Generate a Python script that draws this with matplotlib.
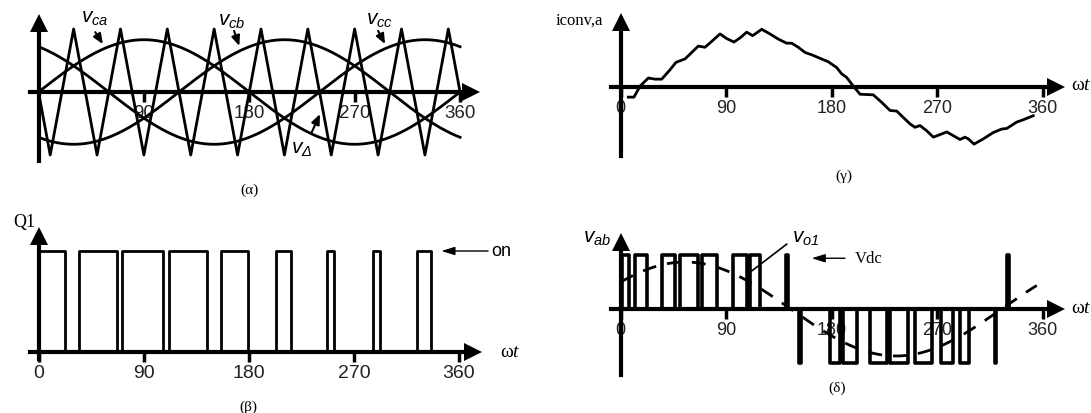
import matplotlib.pyplot as plt
import numpy as np

plt.rcParams['font.family'] = ['Liberation Sans', 'DejaVu Sans']
plt.rcParams['mathtext.fontset'] = 'custom'
plt.rcParams['mathtext.rm'] = 'Liberation Serif'
plt.rcParams['mathtext.it'] = 'Liberation Serif:italic'
plt.rcParams['mathtext.sf'] = 'Liberation Sans:italic'

W, H = 1091, 414

# (alpha) three modulating sines and the triangular carrier
mod_amp = 0.83
mod_peak_deg = [90, 210, 330]  # v_ca, v_cb, v_cc
carrier_deg = [0, 10, 30, 50, 70, 90, 110, 130, 150, 170, 190,
               210, 230, 250, 270, 290, 310, 330, 350, 360]
carrier_val = [0, -1, 1, -1, 1, -1, 1, -1, 1, -1, 1,
               -1, 1, -1, 1, -1, 1, -1, 1, 0]

# (beta) switching pulses of Q1 (on / off edges in degrees)
q1_on = [0, 34.3, 71, 111.6, 155.9, 203, 247, 286, 324]
q1_off = [22.3, 67.2, 106.6, 144.5, 179.4, 216, 253, 292, 336]

# (gamma) converter current
i_deg = [6.5, 11.3, 16.5, 23.6, 29.3, 35, 42, 47.2, 54.9, 59.1, 66.2, 71.9,
         77.6, 84.7, 90.4, 96.7, 102.4, 107.5, 112.6, 120.3, 127.4, 134.5,
         141.6, 145.9, 151.5, 157.3, 163, 170, 177.1, 184.3, 188.6, 192.8,
         198.5, 204.2, 215.5, 222.7, 229.8, 235.5, 241.1, 246.8, 251.1,
         255.4, 261.1, 266.8, 278.2, 289.5, 293.8, 296.6, 301.5, 309.4,
         317.9, 325.1, 329.4, 337.9, 343.5, 352]
i_val = [-0.18, -0.18, 0.01, 0.15, 0.13, 0.13, 0.29, 0.42, 0.48, 0.56, 0.70,
         0.68, 0.78, 0.91, 0.83, 0.77, 0.85, 0.94, 0.88, 0.99, 0.91, 0.82,
         0.75, 0.75, 0.68, 0.59, 0.55, 0.49, 0.43, 0.33, 0.22, 0.16, 0.01,
         -0.13, -0.14, -0.27, -0.41, -0.42, -0.53, -0.64, -0.70, -0.67,
         -0.76, -0.87, -0.78, -0.91, -0.87, -0.90, -0.99, -0.90, -0.79,
         -0.73, -0.72, -0.61, -0.57, -0.50]

# (delta) line-to-line voltage pulses (start, end, level)
vab_pulses = [(1.5, 7.5, 1), (12.5, 22.2, 1), (35, 46.3, 1), (50.6, 66.2, 1),
              (69.5, 82.5, 1), (95.6, 107.5, 1), (110.5, 118.5, 1),
              (141, 142.5, 1), (152.5, 154, -1), (178.6, 187.1, -1),
              (190, 201.4, -1), (213, 227, -1), (229.8, 245.4, -1),
              (251.1, 265.5, -1), (273.5, 283.5, -1), (289.5, 297.5, -1),
              (319, 320.5, -1), (330, 331.5, 1)]
vo1_amp = 0.87
vo1_shift_deg = 35

ticks = [0, 90, 180, 270, 360]

fig = plt.figure(figsize=(W / 100, H / 100), dpi=100)


def panel(x0, kx, xlim, y0, ky, ylim):
    # x0, y0: pixel position of the origin; kx, ky: pixels per data unit
    left = x0 + xlim[0] * kx
    right = x0 + xlim[1] * kx
    top = y0 - ylim[1] * ky
    bottom = y0 - ylim[0] * ky
    ax = fig.add_axes([left / W, 1 - bottom / H, (right - left) / W, (bottom - top) / H])
    ax.set_xlim(xlim)
    ax.set_ylim(ylim)
    ax.patch.set_visible(False)
    return ax


def axis_lines(ax, xspan, yspan, tick_pos, fs):
    ax.spines['top'].set_visible(False)
    ax.spines['right'].set_visible(False)
    for s in ['bottom', 'left']:
        ax.spines[s].set_position(('data', 0))
        ax.spines[s].set_linewidth(3)
    ax.spines['bottom'].set_bounds(*xspan)
    ax.spines['left'].set_bounds(*yspan)
    ax.set_xticks(tick_pos, [str(t) for t in tick_pos])
    ax.set_yticks([])
    ax.tick_params(axis='x', direction='out', length=7, width=2.5,
                   labelsize=fs, pad=2, labelcolor='#222')
    ax.plot(xspan[1], 0, marker='>', ms=13, mew=0, color='k', clip_on=False)
    ax.plot(0, yspan[1], marker='^', ms=13, mew=0, color='k', clip_on=False)


arrow = dict(arrowstyle='-|>,head_length=0.6,head_width=0.25', color='k',
             lw=1.5, shrinkA=0, shrinkB=0)

# ---- (alpha)
ax1 = panel(38.5, 1.171, (-25, 395), 93, 63, (-1.45, 1.45))
axis_lines(ax1, (-7, 369), (-1.1, 1.1), ticks[1:], 13.5)
th = np.linspace(0, 360, 361)
for p in mod_peak_deg:
    ax1.plot(th, mod_amp * np.sin(np.radians(th - p + 90)), color='k', lw=2)
ax1.plot(carrier_deg, carrier_val, color='k', lw=2)
ax1.text(48, 1.2, r'$\mathsf{v}_{\mathsf{ca}}$', fontsize=15, ha='center', va='center')
ax1.annotate('', xy=(55, 0.76), xytext=(48.5, 0.95), arrowprops=arrow)
ax1.text(165, 1.15, r'$\mathsf{v}_{\mathsf{cb}}$', fontsize=15, ha='center', va='center')
ax1.annotate('', xy=(171.5, 0.73), xytext=(167, 0.97), arrowprops=arrow)
ax1.text(291.6, 1.17, r'$\mathsf{v}_{\mathsf{cc}}$', fontsize=15, ha='center', va='center')
ax1.annotate('', xy=(296, 0.76), xytext=(290, 0.97), arrowprops=arrow)
ax1.text(224.8, -0.88, r'$\mathsf{v}_{\mathsf{\Delta}}$', fontsize=15, ha='center', va='center')
ax1.annotate('', xy=(240.4, -0.35), xytext=(233.3, -0.64), arrowprops=arrow)
ax1.text(180, -1.54, '(α)', family='Liberation Serif', fontsize=11, ha='center', va='center')

# ---- (beta)
ax2 = panel(38.8, 1.167, (-25, 400), 353, 101, (-0.45, 1.4))
axis_lines(ax2, (-7.5, 372), (-0.07, 1.15), ticks, 14)
qx, qy = [], []
for a, b in zip(q1_on, q1_off):
    qx += [a, a, b, b]
    qy += [0, 1, 1, 0]
ax2.plot(qx, qy, color='k', lw=2)
ax2.text(-12.7, 1.29, 'Q1', family='Liberation Serif', fontsize=13, ha='center', va='center')
ax2.annotate('', xy=(345, 1), xytext=(385, 1),
             arrowprops=dict(arrowstyle='-|>,head_length=0.8,head_width=0.25',
                             color='k', lw=1, shrinkA=0, shrinkB=0))
ax2.text(388, 1, 'on', fontsize=13, ha='left', va='center')
ax2.text(395, 0, r'$\mathrm{\omega}t$', fontsize=14, ha='left', va='center')
ax2.text(180, -0.54, '(β)', family='Liberation Serif', fontsize=11, ha='center', va='center')

# ---- (gamma)
ax3 = panel(620.7, 1.172, (-60, 400), 87.7, 58, (-1.45, 1.45))
axis_lines(ax3, (-8.5, 371), (-1.19, 1.12), ticks, 13)
ax3.plot(i_deg, i_val, color='k', lw=2)
ax3.text(-15, 1.15, 'iconv,a', family='Liberation Serif', fontsize=12, ha='right', va='center')
ax3.text(384, 0.03, r'$\mathrm{\omega}t$', fontsize=14, ha='left', va='center')
ax3.text(190, -1.53, '(γ)', family='Liberation Serif', fontsize=11, ha='center', va='center')

# ---- (delta)
ax4 = panel(620.7, 1.172, (-60, 400), 310, 54, (-1.6, 1.6))
axis_lines(ax4, (-8.5, 371), (-1.23, 1.25), ticks, 13)
vx, vy = [0], [0]
for a, b, lev in vab_pulses:
    vx += [a, a, b, b]
    vy += [0, lev, lev, 0]
vx.append(360)
vy.append(0)
ax4.plot(vx, vy, color='k', lw=2.6)
th2 = np.linspace(0, 355, 356)
ax4.plot(th2, vo1_amp * np.sin(np.radians(th2 + vo1_shift_deg)), color='k',
         lw=2, ls=(0, (5, 4)))
ax4.text(-20, 1.35, r'$\mathsf{v}_{\mathsf{ab}}$', fontsize=15, ha='center', va='center')
ax4.text(158, 1.35, r'$\mathsf{v}_{\mathsf{o1}}$', fontsize=15, ha='center', va='center')
ax4.plot([141.6, 110.3], [1.2, 0.68], color='k', lw=1.2)
ax4.annotate('', xy=(163, 0.94), xytext=(191.4, 0.94),
             arrowprops=dict(arrowstyle='-|>,head_length=0.8,head_width=0.25',
                             color='k', lw=1, shrinkA=0, shrinkB=0))
ax4.text(200, 0.94, 'Vdc', family='Liberation Serif', fontsize=12, ha='left', va='center')
ax4.text(384, 0.03, r'$\mathrm{\omega}t$', fontsize=14, ha='left', va='center')
ax4.text(185, -1.45, '(δ)', family='Liberation Serif', fontsize=11, ha='center', va='center')

fig.savefig('out.png', dpi=100)
